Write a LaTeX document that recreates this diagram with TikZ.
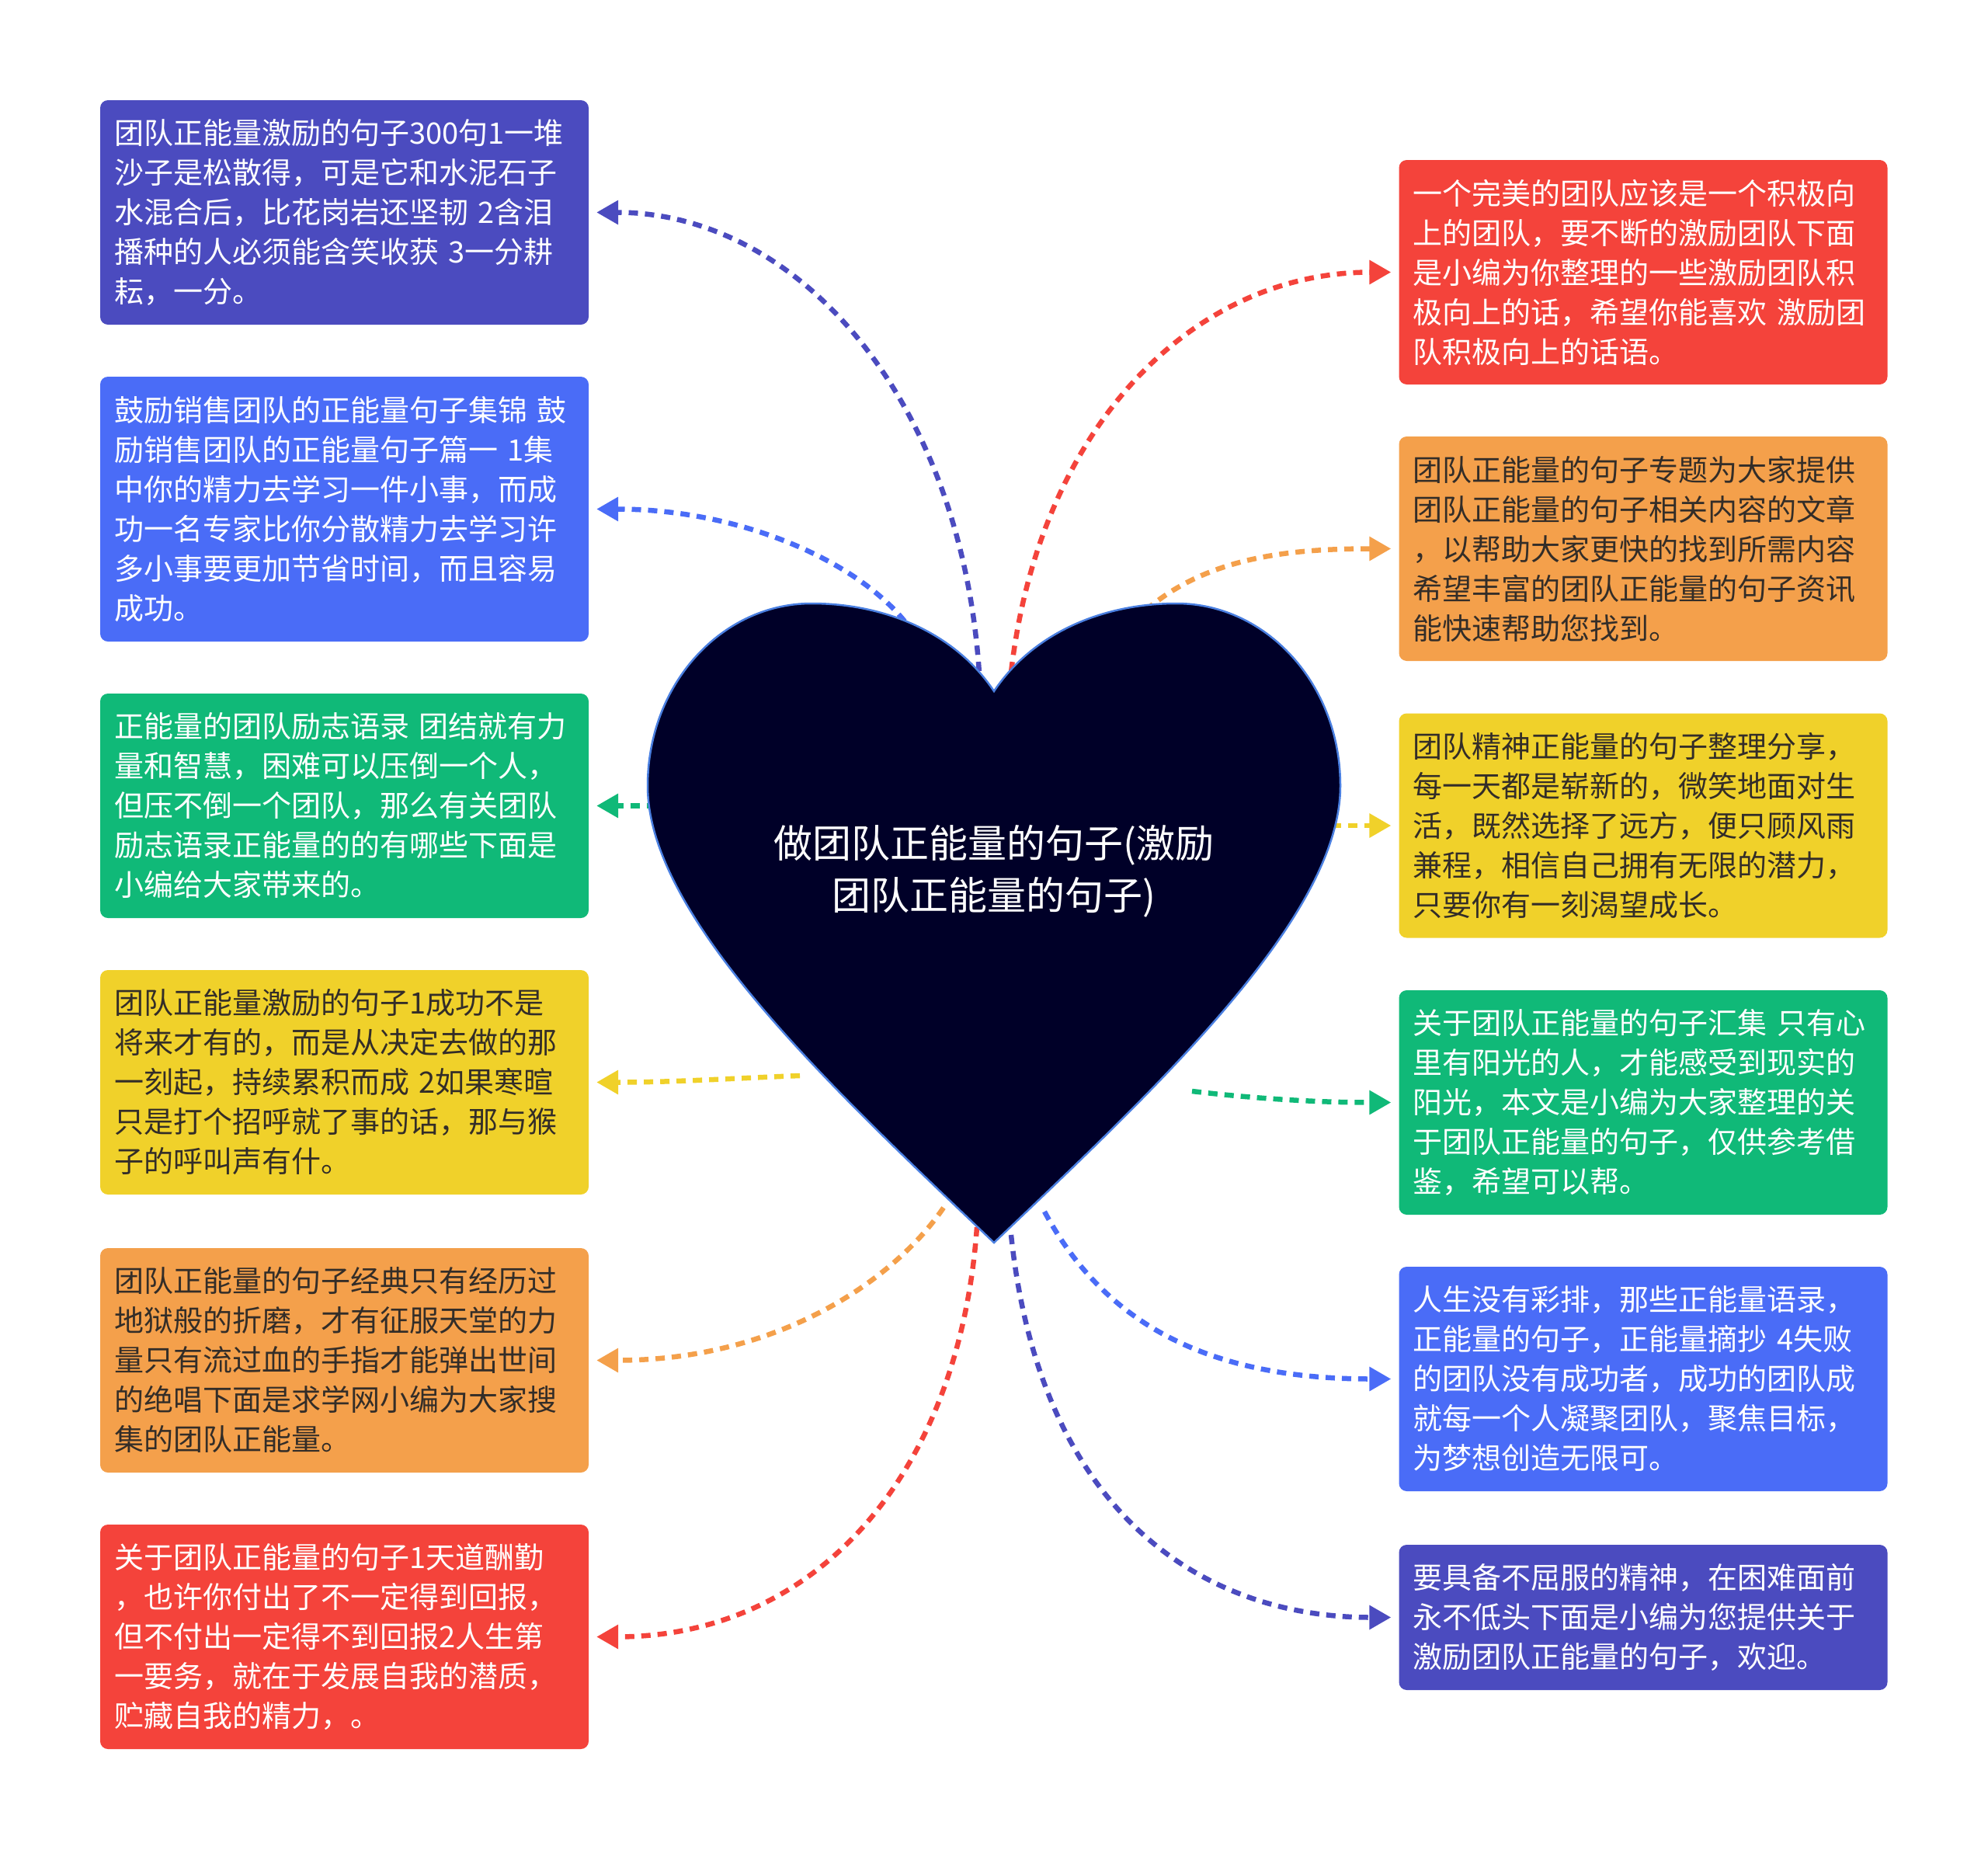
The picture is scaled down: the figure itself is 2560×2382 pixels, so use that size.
\documentclass[tikz,border=0pt]{standalone}
\usepackage{fontspec}
\setmainfont{Noto Sans CJK SC}
\usepackage{xcolor}
\usepackage{tikz}
\usetikzlibrary{arrows.meta}

\definecolor{cIndigo}{RGB}{75,75,191}
\definecolor{cBlue}{RGB}{74,108,247}
\definecolor{cGreen}{RGB}{16,185,120}
\definecolor{cYellow}{RGB}{240,209,42}
\definecolor{cOrange}{RGB}{244,160,75}
\definecolor{cRed}{RGB}{244,67,59}
\definecolor{cDark}{RGB}{51,45,40}
\definecolor{heartFill}{RGB}{0,0,40}
\definecolor{heartEdge}{RGB}{74,127,224}

\tikzset{
  leaf/.style={rectangle, rounded corners=10pt, minimum width=629pt,
    minimum height=289pt, text width=593pt, inner xsep=18pt, align=left,
    font=\fontsize{38}{51}\selectfont},
  link/.style={line width=6.5pt, dash pattern=on 12pt off 9pt,
    -{Triangle[length=28pt,width=30pt]}, shorten >=10pt},
}

\begin{document}
\begin{tikzpicture}[x=1pt,y=-1pt]
  \useasboundingbox (0,0) rectangle (2560,2382);

  % Left column
  \node[leaf, fill=cIndigo, text=white] (lt1) at (443.5,273.5)
    {团队正能量激励的句子300句1一堆\\沙子是松散得，可是它和水泥石子\\水混合后，比花岗岩还坚韧 2含泪\\播种的人必须能含笑收获 3一分耕\\耘，一分。};
  \node[leaf, fill=cBlue, text=white, minimum height=341pt] (lt2) at (443.5,655.5)
    {鼓励销售团队的正能量句子集锦 鼓\\励销售团队的正能量句子篇一 1集\\中你的精力去学习一件小事，而成\\功一名专家比你分散精力去学习许\\多小事要更加节省时间，而且容易\\成功。};
  \node[leaf, fill=cGreen, text=white] (lt3) at (443.5,1037.5)
    {正能量的团队励志语录 团结就有力\\量和智慧，困难可以压倒一个人，\\但压不倒一个团队，那么有关团队\\励志语录正能量的的有哪些下面是\\小编给大家带来的。};
  \node[leaf, fill=cYellow, text=cDark] (lt4) at (443.5,1393.5)
    {团队正能量激励的句子1成功不是\\将来才有的，而是从决定去做的那\\一刻起，持续累积而成 2如果寒暄\\只是打个招呼就了事的话，那与猴\\子的呼叫声有什。};
  \node[leaf, fill=cOrange, text=cDark] (lt5) at (443.5,1751.5)
    {团队正能量的句子经典只有经历过\\地狱般的折磨，才有征服天堂的力\\量只有流过血的手指才能弹出世间\\的绝唱下面是求学网小编为大家搜\\集的团队正能量。};
  \node[leaf, fill=cRed, text=white] (lt6) at (443.5,2107.5)
    {关于团队正能量的句子1天道酬勤\\，也许你付出了不一定得到回报，\\但不付出一定得不到回报2人生第\\一要务，就在于发展自我的潜质，\\贮藏自我的精力，。};

  % Right column
  \node[leaf, fill=cRed, text=white] (rt1) at (2116,350.5)
    {一个完美的团队应该是一个积极向\\上的团队，要不断的激励团队下面\\是小编为你整理的一些激励团队积\\极向上的话，希望你能喜欢 激励团\\队积极向上的话语。};
  \node[leaf, fill=cOrange, text=cDark] (rt2) at (2116,706.5)
    {团队正能量的句子专题为大家提供\\团队正能量的句子相关内容的文章\\，以帮助大家更快的找到所需内容\\希望丰富的团队正能量的句子资讯\\能快速帮助您找到。};
  \node[leaf, fill=cYellow, text=cDark] (rt3) at (2116,1063)
    {团队精神正能量的句子整理分享，\\每一天都是崭新的，微笑地面对生\\活，既然选择了远方，便只顾风雨\\兼程，相信自己拥有无限的潜力，\\只要你有一刻渴望成长。};
  \node[leaf, fill=cGreen, text=white] (rt4) at (2116,1419.5)
    {关于团队正能量的句子汇集 只有心\\里有阳光的人，才能感受到现实的\\阳光，本文是小编为大家整理的关\\于团队正能量的句子，仅供参考借\\鉴，希望可以帮。};
  \node[leaf, fill=cBlue, text=white] (rt5) at (2116,1775.5)
    {人生没有彩排，那些正能量语录，\\正能量的句子，正能量摘抄 4失败\\的团队没有成功者，成功的团队成\\就每一个人凝聚团队，聚焦目标，\\为梦想创造无限可。};
  \node[leaf, fill=cIndigo, text=white, minimum height=187pt] (rt6) at (2116,2082.5)
    {要具备不屈服的精神，在困难面前\\永不低头下面是小编为您提供关于\\激励团队正能量的句子，欢迎。};

  % Start points inside the heart
  \coordinate (a1) at (1262,885);
  \coordinate (a2) at (1165,800);
  \coordinate (a3) at (845,1037.5);
  \coordinate (a4) at (1030,1385);
  \coordinate (a5) at (1215,1555);
  \coordinate (a6) at (1258,1580);
  \coordinate (b1) at (1300,885);
  \coordinate (b2) at (1460,800);
  \coordinate (b3) at (1715,1063);
  \coordinate (b4) at (1535,1405);
  \coordinate (b5) at (1345,1560);
  \coordinate (b6) at (1302,1590);

  % Links
  \draw[link, cIndigo] (a1) .. controls (1245,520) and (1030,273.5) .. (lt1.east);
  \draw[link, cBlue] (a2) .. controls (1100,720) and (950,655.5) .. (lt2.east);
  \draw[link, cGreen] (a3) -- (lt3.east);
  \draw[link, cYellow] (a4) .. controls (950,1388) and (870,1393.5) .. (lt4.east);
  \draw[link, cOrange] (a5) .. controls (1150,1650) and (1000,1751.5) .. (lt5.east);
  \draw[link, cRed] (a6) .. controls (1235,1900) and (1050,2107.5) .. (lt6.east);
  \draw[link, cRed] (b1) .. controls (1330,560) and (1530,350.5) .. (rt1.west);
  \draw[link, cOrange] (b2) .. controls (1540,720) and (1650,706.5) .. (rt2.west);
  \draw[link, cYellow] (b3) -- (rt3.west);
  \draw[link, cGreen] (b4) .. controls (1620,1415) and (1700,1419.5) .. (rt4.west);
  \draw[link, cBlue] (b5) .. controls (1420,1700) and (1550,1775.5) .. (rt5.west);
  \draw[link, cIndigo] (b6) .. controls (1340,1950) and (1550,2082.5) .. (rt6.west);

  % Heart
  \draw[fill=heartFill, draw=heartEdge, line width=2.5pt]
    (1280,890) .. controls (1230,815) and (1140,777) .. (1045,777)
    .. controls (930,777) and (834,880) .. (834,1012)
    .. controls (834,1180) and (1070,1400) .. (1280,1600)
    .. controls (1490,1400) and (1726,1180) .. (1726,1012)
    .. controls (1726,880) and (1630,777) .. (1515,777)
    .. controls (1420,777) and (1330,815) .. (1280,890) -- cycle;
  \node[text=white, align=center, font=\fontsize{50}{67}\selectfont] (hub) at (1280,1122)
    {做团队正能量的句子(激励\\团队正能量的句子)};
\end{tikzpicture}
\end{document}
